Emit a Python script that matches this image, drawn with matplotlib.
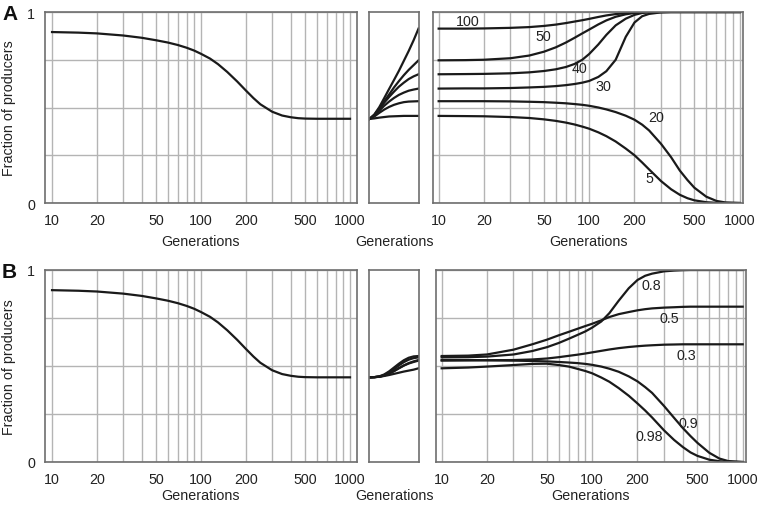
import matplotlib
matplotlib.use("Agg")
import matplotlib.pyplot as plt
from matplotlib.ticker import FixedLocator, NullFormatter, FixedFormatter

plt.rcParams['font.family'] = ['Liberation Sans', 'DejaVu Sans']

# ---------------- data ----------------
gens = [10, 15, 20, 30, 40, 50, 60, 70, 80, 90, 100, 115, 130, 150, 175, 200, 225, 250,
        300, 350, 400, 450, 500, 600, 700, 800, 1000]

# left panels (A and B): single run
frac_left = [0.895, 0.892, 0.888, 0.877, 0.865, 0.852, 0.840, 0.827, 0.813, 0.798, 0.781, 0.756,
             0.727, 0.686, 0.636, 0.589, 0.549, 0.517, 0.478, 0.458, 0.449, 0.444, 0.442, 0.441,
             0.441, 0.441, 0.441]

# middle panels: short transition (arbitrary generation steps)
t_mid = [0, 1, 2, 3, 4, 5, 6, 7, 8, 9, 10]
mid_A = {
    "100": [0.44, 0.464, 0.502, 0.549, 0.597, 0.644, 0.692, 0.744, 0.796, 0.852, 0.913],
    "50":  [0.44, 0.461, 0.495, 0.532, 0.568, 0.605, 0.638, 0.669, 0.697, 0.722, 0.747],
    "40":  [0.44, 0.461, 0.492, 0.525, 0.555, 0.583, 0.609, 0.630, 0.649, 0.663, 0.674],
    "30":  [0.44, 0.458, 0.483, 0.509, 0.531, 0.550, 0.566, 0.578, 0.588, 0.594, 0.599],
    "20":  [0.44, 0.453, 0.472, 0.489, 0.503, 0.514, 0.522, 0.528, 0.531, 0.532, 0.533],
    "5":   [0.44, 0.443, 0.447, 0.450, 0.453, 0.454, 0.455, 0.456, 0.456, 0.456, 0.456],
}
mid_B = {
    "0.5":  [0.441, 0.442, 0.446, 0.456, 0.472, 0.492, 0.512, 0.530, 0.543, 0.550, 0.552],
    "0.8":  [0.441, 0.442, 0.445, 0.453, 0.466, 0.484, 0.503, 0.520, 0.533, 0.541, 0.545],
    "0.3":  [0.441, 0.442, 0.444, 0.450, 0.460, 0.473, 0.488, 0.502, 0.513, 0.521, 0.528],
    "0.9":  [0.441, 0.442, 0.444, 0.451, 0.461, 0.474, 0.489, 0.503, 0.515, 0.524, 0.531],
    "0.98": [0.441, 0.442, 0.444, 0.448, 0.453, 0.459, 0.465, 0.471, 0.476, 0.481, 0.488],
}

# right panel A
right_A = {
    "100": [0.913, 0.913, 0.914, 0.917, 0.921, 0.927, 0.934, 0.942, 0.950, 0.957, 0.964, 0.974,
            0.982, 0.989, 0.994, 0.997, 0.999, 1.0, 1.0, 1.0, 1.0, 1.0, 1.0, 1.0, 1.0, 1.0, 1.0],
    "50":  [0.747, 0.748, 0.750, 0.758, 0.772, 0.792, 0.815, 0.840, 0.865, 0.888, 0.908, 0.935,
            0.956, 0.975, 0.988, 0.995, 0.998, 1.0, 1.0, 1.0, 1.0, 1.0, 1.0, 1.0, 1.0, 1.0, 1.0],
    "40":  [0.674, 0.675, 0.676, 0.679, 0.684, 0.691, 0.700, 0.712, 0.728, 0.750, 0.780, 0.830,
            0.880, 0.930, 0.965, 0.985, 0.995, 0.999, 1.0, 1.0, 1.0, 1.0, 1.0, 1.0, 1.0, 1.0, 1.0],
    "30":  [0.599, 0.600, 0.600, 0.602, 0.605, 0.608, 0.612, 0.617, 0.623, 0.630, 0.639, 0.660,
            0.690, 0.750, 0.870, 0.945, 0.978, 0.990, 0.998, 1.0, 1.0, 1.0, 1.0, 1.0, 1.0, 1.0, 1.0],
    "20":  [0.533, 0.533, 0.533, 0.532, 0.530, 0.528, 0.525, 0.522, 0.518, 0.514, 0.509, 0.500,
            0.490, 0.476, 0.457, 0.436, 0.410, 0.380, 0.310, 0.240, 0.170, 0.120, 0.080, 0.033,
            0.011, 0.003, 0.0],
    "5":   [0.456, 0.455, 0.454, 0.450, 0.445, 0.438, 0.430, 0.421, 0.411, 0.400, 0.389, 0.370,
            0.350, 0.322, 0.285, 0.250, 0.212, 0.176, 0.115, 0.072, 0.043, 0.025, 0.014, 0.004,
            0.001, 0.0, 0.0],
}
labels_A = {"100": (15.7, 0.953), "50": (49.3, 0.875), "40": (86, 0.705),
            "30": (123.6, 0.61), "20": (279, 0.448), "5": (252, 0.131)}

# right panel B
right_B = {
    "0.8":  [0.545, 0.546, 0.549, 0.560, 0.578, 0.598, 0.620, 0.642, 0.662, 0.680, 0.700, 0.732,
             0.775, 0.840, 0.905, 0.948, 0.970, 0.981, 0.993, 0.997, 0.999, 1.0, 1.0, 1.0, 1.0,
             1.0, 1.0],
    "0.5":  [0.552, 0.554, 0.560, 0.585, 0.613, 0.637, 0.660, 0.678, 0.694, 0.708, 0.720, 0.738,
             0.755, 0.770, 0.781, 0.790, 0.796, 0.800, 0.804, 0.806, 0.808, 0.809, 0.809, 0.809,
             0.809, 0.809, 0.809],
    "0.3":  [0.528, 0.529, 0.530, 0.531, 0.534, 0.539, 0.546, 0.553, 0.559, 0.565, 0.571, 0.579,
             0.586, 0.593, 0.599, 0.603, 0.606, 0.608, 0.611, 0.612, 0.613, 0.613, 0.613, 0.613,
             0.613, 0.613, 0.613],
    "0.9":  [0.531, 0.531, 0.530, 0.528, 0.526, 0.524, 0.521, 0.518, 0.515, 0.511, 0.506, 0.497,
             0.486, 0.470, 0.446, 0.420, 0.390, 0.360, 0.292, 0.230, 0.177, 0.135, 0.100, 0.048,
             0.018, 0.005, 0.0],
    "0.98": [0.488, 0.492, 0.497, 0.505, 0.511, 0.512, 0.505, 0.497, 0.485, 0.474, 0.462, 0.440,
             0.418, 0.385, 0.345, 0.305, 0.268, 0.232, 0.165, 0.115, 0.078, 0.050, 0.032, 0.012,
             0.004, 0.001, 0.0],
}
labels_B = {"0.8": (247, 0.922), "0.5": (324, 0.748), "0.3": (422, 0.557),
            "0.9": (433, 0.205), "0.98": (240, 0.135)}

x_major = [10, 20, 50, 100, 200, 500, 1000]
x_grid = [10, 20, 30, 40, 50, 60, 70, 80, 90, 100, 200, 300, 400, 500, 600, 700, 800, 900, 1000]
y_grid = [0, 0.25, 0.5, 0.75, 1]
y_labels = ["0", "", "", "", "1"]

# ---------------- style ----------------
W, H = 759, 506
LINE = "#1a1a1a"
GRID = "#b4b4b4"
SPINE = "#6e6e6e"
TXT = "#222222"
FS = 10.3

fig = plt.figure(figsize=(W / 100, H / 100), dpi=100)


def px_axes(x0, x1, y0, y1):
    return fig.add_axes([x0 / W, 1 - y1 / H, (x1 - x0) / W, (y1 - y0) / H])


def style_log(ax, xlim, show_y, lpad):
    ax.set_xscale("log")
    ax.set_xlim(*xlim)
    ax.set_ylim(0, 1)
    ax.xaxis.set_major_locator(FixedLocator(x_major))
    ax.xaxis.set_major_formatter(FixedFormatter([str(v) for v in x_major]))
    ax.xaxis.set_minor_locator(FixedLocator([v for v in x_grid if v not in x_major]))
    ax.xaxis.set_minor_formatter(NullFormatter())
    ax.yaxis.set_major_locator(FixedLocator(y_grid))
    ax.yaxis.set_major_formatter(FixedFormatter(y_labels if show_y else [""] * 5))
    ax.tick_params(which="both", length=0, labelsize=FS, colors=TXT, pad=7)
    ax.grid(True, which="both", axis="x", color=GRID, lw=1.0)
    ax.grid(True, which="major", axis="y", color=GRID, lw=1.0)
    for s in ax.spines.values():
        s.set_color(SPINE)
        s.set_linewidth(1.2)
    ax.set_xlabel("Generations", fontsize=FS, color=TXT, labelpad=lpad)


def style_mid(ax, lpad):
    ax.set_xlim(-0.1, 10.1)
    ax.set_ylim(0, 1)
    ax.set_xticks([])
    ax.set_yticks([])
    for s in ax.spines.values():
        s.set_color(SPINE)
        s.set_linewidth(1.2)
    ax.set_xlabel("Generations", fontsize=FS, color=TXT, labelpad=lpad)


rows = [
    (13, 204, 0, mid_A, right_A, labels_A, "A", 5),
    (271, 463, 3, mid_B, right_B, labels_B, "B", 1.5),
]

for (ytop, ybot, dx, mid, right, labels, letter, lpad) in rows:
    axL = px_axes(45, 357, ytop, ybot)
    style_log(axL, (8.97, 1114), True, lpad)
    axL.plot(gens, frac_left, color=LINE, lw=1.6)
    axL.set_ylabel("Fraction of producers", fontsize=FS, color=TXT, labelpad=8)

    axM = px_axes(369, 419, ytop, ybot)
    style_mid(axM, lpad + 17)
    for k, v in mid.items():
        axM.plot(t_mid, v, color=LINE, lw=1.6)

    axR = px_axes(433 + dx, 743 + dx, ytop, ybot)
    style_log(axR, (9.17, 1052), False, lpad)
    for k, v in right.items():
        axR.plot(gens, v, color=LINE, lw=1.6)
    for k, (x, y) in labels.items():
        axR.text(x, y, k, fontsize=FS, color=TXT, ha="center", va="center")

    fig.text(2 / W, 1 - (ytop + 2) / H, letter, fontsize=15, fontweight="bold",
             color="#111111", ha="left", va="center")

fig.savefig("out.png", dpi=100)
